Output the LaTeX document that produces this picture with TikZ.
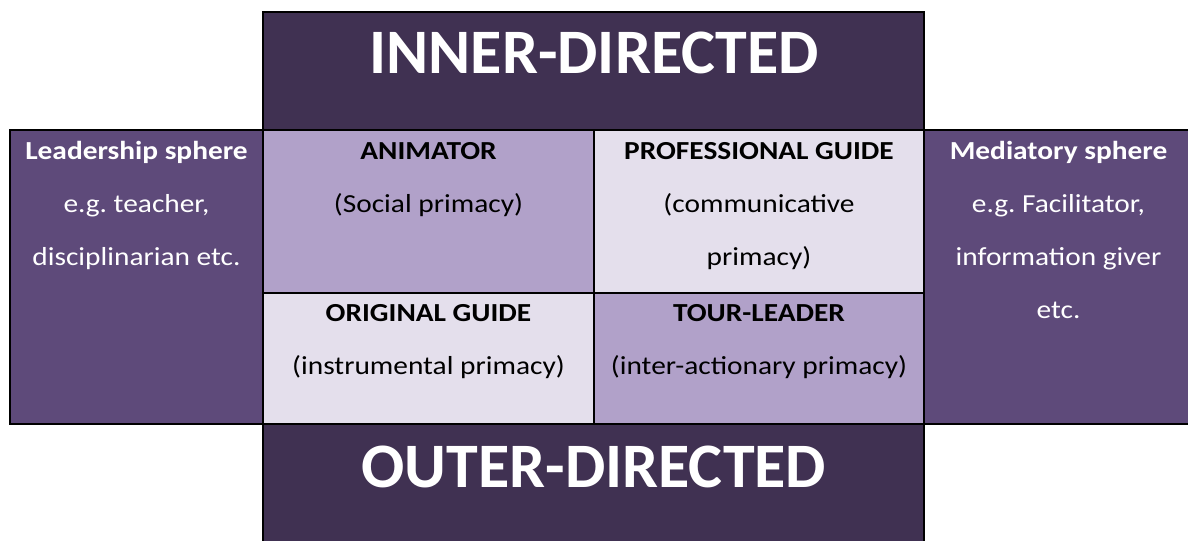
\documentclass[tikz,border=0pt]{standalone}
\usepackage{fontspec}
\setmainfont{Carlito}
\newfontfamily\bodyfont[FakeStretch=1.13]{Carlito}
\newfontfamily\titlefont[FakeStretch=1.01]{Carlito}
\frenchspacing
\definecolor{darkp}{RGB}{64,49,82}
\definecolor{sidep}{RGB}{94,74,122}
\definecolor{lightp}{RGB}{177,161,201}
\definecolor{paleP}{RGB}{228,223,236}
\tikzset{
  box/.style={draw=black, line width=1.6pt},
  bigtxt/.style={anchor=base, inner sep=0pt, text=white, font=\titlefont\fontsize{47.5}{56}\selectfont\bfseries},
  headw/.style={anchor=base, inner sep=0pt, text=white, font=\bodyfont\fontsize{19.5}{23}\selectfont\bfseries},
  bodyw/.style={anchor=base, inner sep=0pt, text=white, font=\bodyfont\fontsize{19.5}{23}\selectfont},
  headb/.style={anchor=base, inner sep=0pt, text=black, font=\bodyfont\fontsize{19.5}{23}\selectfont\bfseries},
  bodyb/.style={anchor=base, inner sep=0pt, text=black, font=\bodyfont\fontsize{19.5}{23}\selectfont},
}
\begin{document}
\begin{tikzpicture}[x=0.75pt,y=-0.75pt]
\useasboundingbox (0,0) rectangle (1188,540);
\clip (0,0) rectangle (1188,540);
% boxes
\draw[box, fill=darkp] (263,12) rectangle (924,130);
\draw[box, fill=sidep] (10,130) rectangle (263,424);
\draw[box, fill=sidep] (924,130) rectangle (1205,424);
\draw[box, fill=darkp] (263,424) rectangle (924,560);
\draw[box, fill=lightp] (263,130) rectangle (594,293);
\draw[box, fill=paleP] (594,130) rectangle (924,293);
\draw[box, fill=paleP] (263,293) rectangle (594,424);
\draw[box, fill=lightp] (594,293) rectangle (924,424);
% titles
\node[bigtxt] (inner) at (594,73) {INNER-DIRECTED};
\node[bigtxt] (outer) at (594,487) {OUTER-DIRECTED};
% left sphere
\node[headw] (lead) at (136.5,159) {Leadership sphere};
\node[bodyw] (lead2) at (136.5,212) {e.g. teacher,};
\node[bodyw] (lead3) at (136.5,265) {disciplinarian etc.};
% right sphere
\node[headw] (med) at (1058.5,159) {Mediatory sphere};
\node[bodyw] (med2) at (1058.5,212) {e.g. Facilitator,};
\node[bodyw] (med3) at (1058.5,265) {information giver};
\node[bodyw] (med4) at (1058.5,318) {etc.};
% cells
\node[headb] (anim) at (428.5,159) {ANIMATOR};
\node[bodyb] (anim2) at (428.5,212) {(Social primacy)};
\node[headb] (prof) at (759,159) {PROFESSIONAL GUIDE};
\node[bodyb] (prof2) at (759,212) {(communicative};
\node[bodyb] (prof3) at (759,265) {primacy)};
\node[headb] (orig) at (428.5,321) {ORIGINAL GUIDE};
\node[bodyb] (orig2) at (428.5,374) {(instrumental primacy)};
\node[headb] (tour) at (759,321) {TOUR-LEADER};
\node[bodyb] (tour2) at (759,374) {(inter-actionary primacy)};
\end{tikzpicture}
\end{document}
